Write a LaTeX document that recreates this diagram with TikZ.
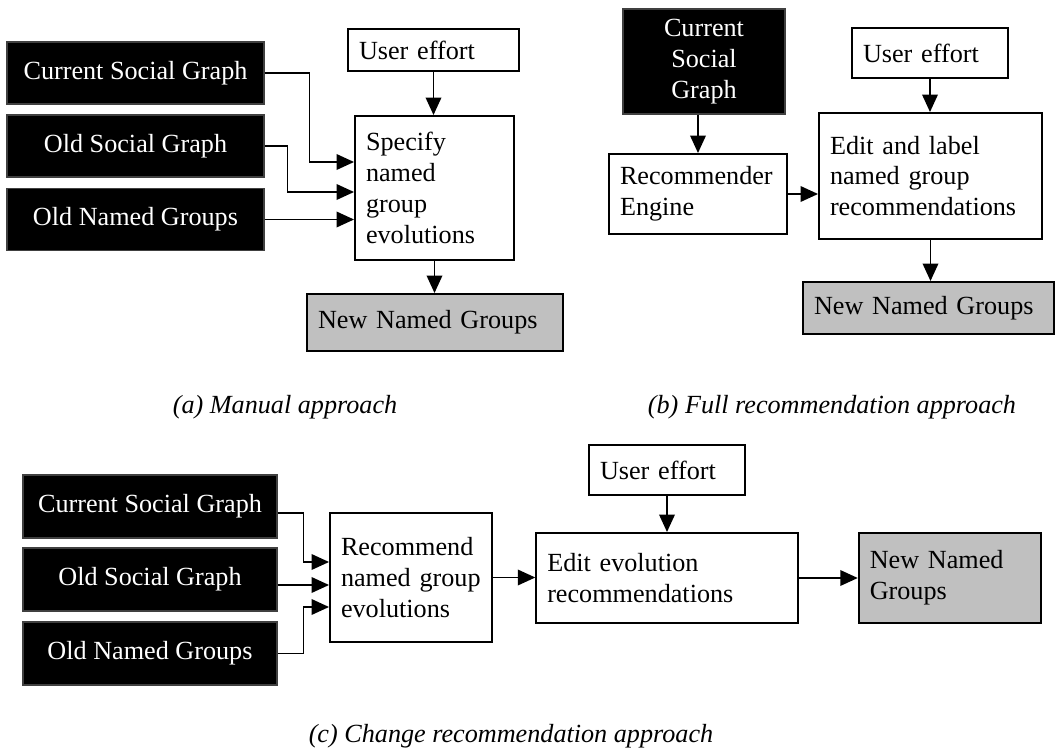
\documentclass[tikz,border=0pt]{standalone}
\usepackage{fontspec}
\setmainfont{Liberation Serif}
\usepackage{xcolor}
\usepackage{tikz}
\usetikzlibrary{positioning, calc, arrows.meta}
\definecolor{outgray}{HTML}{C0C0C0}

\begin{document}
\begin{tikzpicture}[x=0.02cm, y=-0.02cm,
	dark/.style={draw=black!75, fill=black, text=white, align=center, line width=0.6pt, font=\fontsize{14.9}{17.6}\selectfont},
	wbox/.style={draw, fill=white, align=left, line width=1.1pt, inner xsep=0.22cm, inner ysep=0pt, text width=#1, font=\fontsize{14.9}{17.6}\selectfont},
	arr/.style={line width=1.1pt, -{Triangle[length=0.35cm, width=0.31cm]}}]
			\useasboundingbox (0,0) rectangle (1056,750);
			
			%% (a)
			\node[dark, minimum width=5.14cm, minimum height=1.24cm](csgA) at (135.5,73) {Current Social Graph};
			\node[dark, minimum width=5.14cm, minimum height=1.24cm](osgA) at (135.5,146) {Old Social Graph};
			\node[dark, minimum width=5.14cm, minimum height=1.24cm](ongA) at (135.5,219.5) {Old Named Groups};
			\node[wbox=2.98cm, minimum height=0.84cm](userA) at (433.5,50) {User effort};
			\node[wbox=2.74cm, minimum height=2.88cm](specA) at (434.5,188) {Specify\\named\\group\\evolutions};
			\node[wbox=4.68cm, minimum height=1.14cm, fill=outgray](newA) at (435,322.5) {New Named Groups};
			
			\draw[arr] (csgA.east) -- ++(45,0) |- ($(specA.west)+(0,-26)$);
			\draw[arr] (osgA.east) -- ++(23,0) |- ($(specA.west)+(0,4)$);
			\draw[arr] (ongA.east) -- (ongA.east -| specA.west);
			\draw[arr] (userA.south) -- (userA.south |- specA.north);
			\draw[arr] (specA.south) -- (specA.south |- newA.north);
			
			%% (b)
			\node[dark, minimum width=3.24cm, minimum height=2.1cm](csgB) at (704,61.5) {Current\\Social\\Graph};
			\node[wbox=2.68cm, minimum height=1cm](userB) at (930,53) {User effort};
			\node[wbox=3.12cm, minimum height=1.6cm](recB) at (698,194) {Recommender\\Engine};
			\node[wbox=4.02cm, minimum height=2.52cm](editB) at (930.5,176) {Edit and label\\named group\\recommendations};
			\node[wbox=4.58cm, minimum height=1.04cm, fill=outgray](newB) at (928.5,308) {New Named Groups};
			
			\draw[arr] (recB.north |- csgB.south) -- (recB.north);
			\draw[arr] (recB.east) -- (recB.east -| editB.west);
			\draw[arr] (userB.south) -- (userB.south |- editB.north);
			\draw[arr] (editB.south) -- (editB.south |- newB.north);
			
			%% (c)
			\node[dark, minimum width=5.08cm, minimum height=1.26cm](csgC) at (150,506.5) {Current Social Graph};
			\node[dark, minimum width=5.08cm, minimum height=1.26cm](osgC) at (150,579.5) {Old Social Graph};
			\node[dark, minimum width=5.08cm, minimum height=1.26cm](ongC) at (150,653.5) {Old Named Groups};
			\node[wbox=2.8cm, minimum height=2.58cm](recC) at (411,577.5) {Recommend\\named group\\evolutions};
			\node[wbox=2.68cm, minimum height=1cm](userC) at (667,470) {User effort};
			\node[wbox=4.79cm, minimum height=1.8cm](editC) at (667,578) {Edit evolution\\recommendations};
			\node[wbox=3.21cm, minimum height=1.8cm, fill=outgray](newC) at (950,578) {New Named\\Groups};
			
			\coordinate (inOsg) at ($(recC.west)+(0,7.5)$);
			\draw[arr] ($(csgC.east)+(0,6.5)$) -- ++(26,0) |- ($(recC.west)+(0,-15.5)$);
			\draw[arr] (osgC.east |- inOsg) -- (inOsg);
			\draw[arr] (ongC.east) -- ++(26,0) |- ($(recC.west)+(0,29.5)$);
			\draw[arr] (recC.east) -- (recC.east -| editC.west);
			\draw[arr] (userC.south) -- (userC.south |- editC.north);
			\draw[arr] (editC.east) -- (editC.east -| newC.west);
			
			\tikzstyle{caption}=[anchor=base, font=\fontsize{14.9}{17.6}\selectfont\itshape]
			\node[caption](capA) at (285,413) {(a) Manual approach};
			\node[caption](capB) at (832,413) {(b) Full recommendation approach};
			\node[caption](capC) at (511,742) {(c) Change recommendation approach};
			
			\end{tikzpicture}
\end{document}
